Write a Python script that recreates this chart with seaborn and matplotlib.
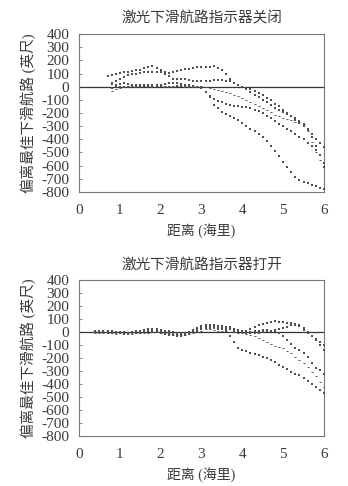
import numpy as np
import pandas as pd
import matplotlib
matplotlib.use("Agg")
import matplotlib.pyplot as plt
import seaborn as sns

# ---------------- data ----------------
titles = ["激光下滑航路指示器关闭", "激光下滑航路指示器打开"]
xlabel = "距离 (海里)"
ylabel = "偏离最佳下滑航路 (英尺)"
yticks = [400, 300, 200, 100, 0, -100, -200, -300, -400, -500, -600, -700, -800]
xticks = [0, 1, 2, 3, 4, 5, 6]

# Top panel (laser off) : x from 0.7 / 0.8 to 6.0 step 0.1
top_x_a = [0.7, 0.8, 0.9, 1.0, 1.1, 1.2, 1.3, 1.4, 1.5, 1.6, 1.7, 1.8, 1.9, 2.0, 2.1, 2.2, 2.3, 2.4, 2.5, 2.6,
           2.7, 2.8, 2.9, 3.0, 3.1, 3.2, 3.3, 3.4, 3.5, 3.6, 3.7, 3.8, 3.9, 4.0, 4.1, 4.2, 4.3, 4.4, 4.5, 4.6,
           4.7, 4.8, 4.9, 5.0, 5.1, 5.2, 5.3, 5.4, 5.5, 5.6, 5.7, 5.8, 5.9, 6.0]
top_x_b = top_x_a[1:]

off_s1 = [80, 90, 100, 105, 110, 112, 118, 125, 130, 140, 152, 155, 140, 125, 110, 105, 112, 120, 125, 132,
          138, 144, 148, 150, 150, 152, 155, 145, 125, 95, 60, 30, 10, -5, -10, -20, -30, -45, -65, -85,
          -105, -130, -150, -175, -200, -225, -250, -275, -300, -330, -360, -395, -430, -460]
off_s2 = [30, 45, 60, 75, 85, 95, 100, 105, 108, 110, 112, 115, 110, 100, 80, 60, 55, 55, 55,
          50, 45, 45, 40, 40, 45, 50, 50, 48, 45, 40, 30, 15, 0, -20, -40, -60, -80, -100, -120,
          -140, -160, -175, -190, -205, -220, -240, -260, -280, -320, -380, -450, -520, -580]
off_s3 = [20, 15, 20, 25, 20, 15, 15, 10, 10, 10, 10, 15, 15, 20, 25, 30, 25, 20, 15,
          10, 5, 0, -5, -40, -70, -95, -110, -120, -130, -138, -145, -150, -155, -158, -162, -175, -188, -200, -220,
          -240, -260, -280, -300, -318, -340, -360, -380, -400, -425, -450, -480, -520, -610]
off_s4 = [-10, -5, 0, 0, 0, -5, 0, 0, 5, 0, 0, 5, 5, 0, 0, 0, 5, 5, 0,
          0, 0, -5, -10, -40, -80, -136, -165, -190, -210, -225, -240, -255, -275, -300, -320, -340, -360, -385, -414,
          -450, -490, -530, -570, -610, -650, -690, -710, -725, -735, -745, -755, -767, -780]
off_s5 = [-30, -20, -10, 0, 5, 5, 5, 5, 5, 5, 5, 5, 5, 5, 5, 5, 5, 5, 5,
          5, 5, 5, 5, 0, -10, -20, -28, -35, -42, -50, -60, -72, -85, -100, -118, -130, -145, -160, -175,
          -195, -212, -225, -235, -245, -255, -265, -270, -280, -340, -420, -500, -560, -580]

# Bottom panel (laser on) : x from 0.4 to 6.0 step 0.1
bot_x = [0.4, 0.5, 0.6, 0.7, 0.8, 0.9, 1.0, 1.1, 1.2, 1.3, 1.4, 1.5, 1.6, 1.7, 1.8, 1.9, 2.0, 2.1, 2.2, 2.3,
         2.4, 2.5, 2.6, 2.7, 2.8, 2.9, 3.0, 3.1, 3.2, 3.3, 3.4, 3.5, 3.6, 3.7, 3.8, 3.9, 4.0, 4.1, 4.2, 4.3,
         4.4, 4.5, 4.6, 4.7, 4.8, 4.9, 5.0, 5.1, 5.2, 5.3, 5.4, 5.5, 5.6, 5.7, 5.8, 5.9, 6.0]
on_s1 = [0, 5, 5, 0, -5, -5, -5, -5, -10, -5, 0, 5, 10, 15, 15, 10, 5, 0, -5, -10,
         -15, -15, -10, -5, 5, 15, 25, 30, 30, 30, 25, 20, 5, -30, -80, -120, -140, -150, -160, -170,
         -180, -190, -200, -215, -235, -255, -270, -285, -305, -320, -335, -355, -375, -400, -425, -445, -470]
on_s2 = [-5, -10, -10, -10, -10, -15, -10, -10, -15, -15, -10, -10, -5, -5, 0, 0, -5, -10, -15, -20,
         -25, -25, -20, -15, -5, 0, 10, 20, 20, 15, 10, 10, 5, 0, 0, -5, -10, -15, -25, -35,
         -50, -65, -75, -90, -105, -115, -125, -145, -165, -190, -215, -240, -270, -305, -340, -385, -420]
on_s3 = [5, 10, 10, 5, 5, 0, 0, 0, -5, 0, 5, 10, 15, 20, 25, 20, 15, 10, 5, 0,
         -5, -5, -5, 0, 15, 30, 45, 50, 55, 50, 45, 40, 35, 30, 20, 10, 5, 0, 0, 5,
         10, 15, 15, 10, 5, -10, -30, -60, -90, -120, -140, -165, -195, -240, -280, -295, -320]
on_s4 = [10, 10, 10, 5, 0, 0, 0, 0, -5, 0, 0, 5, 10, 15, 20, 20, 15, 10, 5, -5,
         -10, -10, -5, 0, 10, 25, 40, 50, 55, 50, 45, 45, 40, 35, 25, 15, 10, 10, 20, 35,
         50, 60, 70, 80, 85, 80, 75, 70, 65, 60, 45, 15, -10, -30, -60, -100, -140]
on_s5 = [0, 0, 0, -5, -10, -10, -10, -15, -15, -10, -10, -5, 0, 5, 5, 0, -5, -15, -20, -25,
         -30, -30, -25, -15, 0, 10, 20, 35, 40, 40, 35, 30, 25, 20, 10, 5, 0, -5, -10, -10,
         -5, 0, 5, 10, 15, 25, 30, 40, 50, 55, 50, 30, 0, -30, -55, -80, -100]

# ---------------- style ----------------
sns.set_theme(style="white")
plt.rcParams["font.family"] = ["Liberation Serif", "Noto Sans CJK SC"]
plt.rcParams["axes.unicode_minus"] = False
txt_color = "#3a3a3a"
mark_color = "#505050"

top_series = [(top_x_a, off_s1, "s"), (top_x_b, off_s2, "s"), (top_x_b, off_s3, "s"),
              (top_x_b, off_s4, "s"), (top_x_b, off_s5, "_")]
bot_series = [(bot_x, on_s1, "s"), (bot_x, on_s2, "_"), (bot_x, on_s3, "s"),
              (bot_x, on_s4, "s"), (bot_x, on_s5, "s")]

fig = plt.figure(figsize=(3.48, 4.86), dpi=100)
ax1 = fig.add_axes([0.227, 0.605, 0.704, 0.325])
ax2 = fig.add_axes([0.227, 0.103, 0.704, 0.321])

for ax, series, title in [(ax1, top_series, titles[0]), (ax2, bot_series, titles[1])]:
    for xs, ys, m in series:
        df = pd.DataFrame({"x": xs, "y": ys})
        if m == "_":
            sns.scatterplot(data=df, x="x", y="y", marker="_", s=4, color=mark_color,
                            linewidth=0.7, legend=False, ax=ax, zorder=3)
        else:
            sns.scatterplot(data=df, x="x", y="y", marker="s", s=2.4, color=mark_color,
                            linewidth=0, legend=False, ax=ax, zorder=3)
    ax.axhline(0, color="#333333", lw=0.9, zorder=2)
    ax.set_xlim(0, 6)
    ax.set_ylim(-800, 400)
    ax.set_xticks(xticks)
    ax.set_xticklabels([str(t) for t in xticks])
    ax.set_yticks(yticks)
    ax.set_yticklabels([str(t) for t in yticks])
    ax.tick_params(axis="x", length=0, pad=9, labelsize=11, labelcolor=txt_color)
    ax.tick_params(axis="y", direction="in", length=2, width=0.6, color="#777777",
                   pad=7, labelsize=11, labelcolor=txt_color, left=True)
    for sp in ax.spines.values():
        sp.set_color("#777777")
        sp.set_linewidth(0.8)
    ax.set_title(title, fontsize=10.5, color=txt_color, pad=8)
    ax.set_xlabel(xlabel, fontsize=10, color=txt_color, labelpad=4)
    ax.set_ylabel(ylabel, fontsize=10.5, color=txt_color, labelpad=4)

fig.savefig("out.png", dpi=100, facecolor="white")
